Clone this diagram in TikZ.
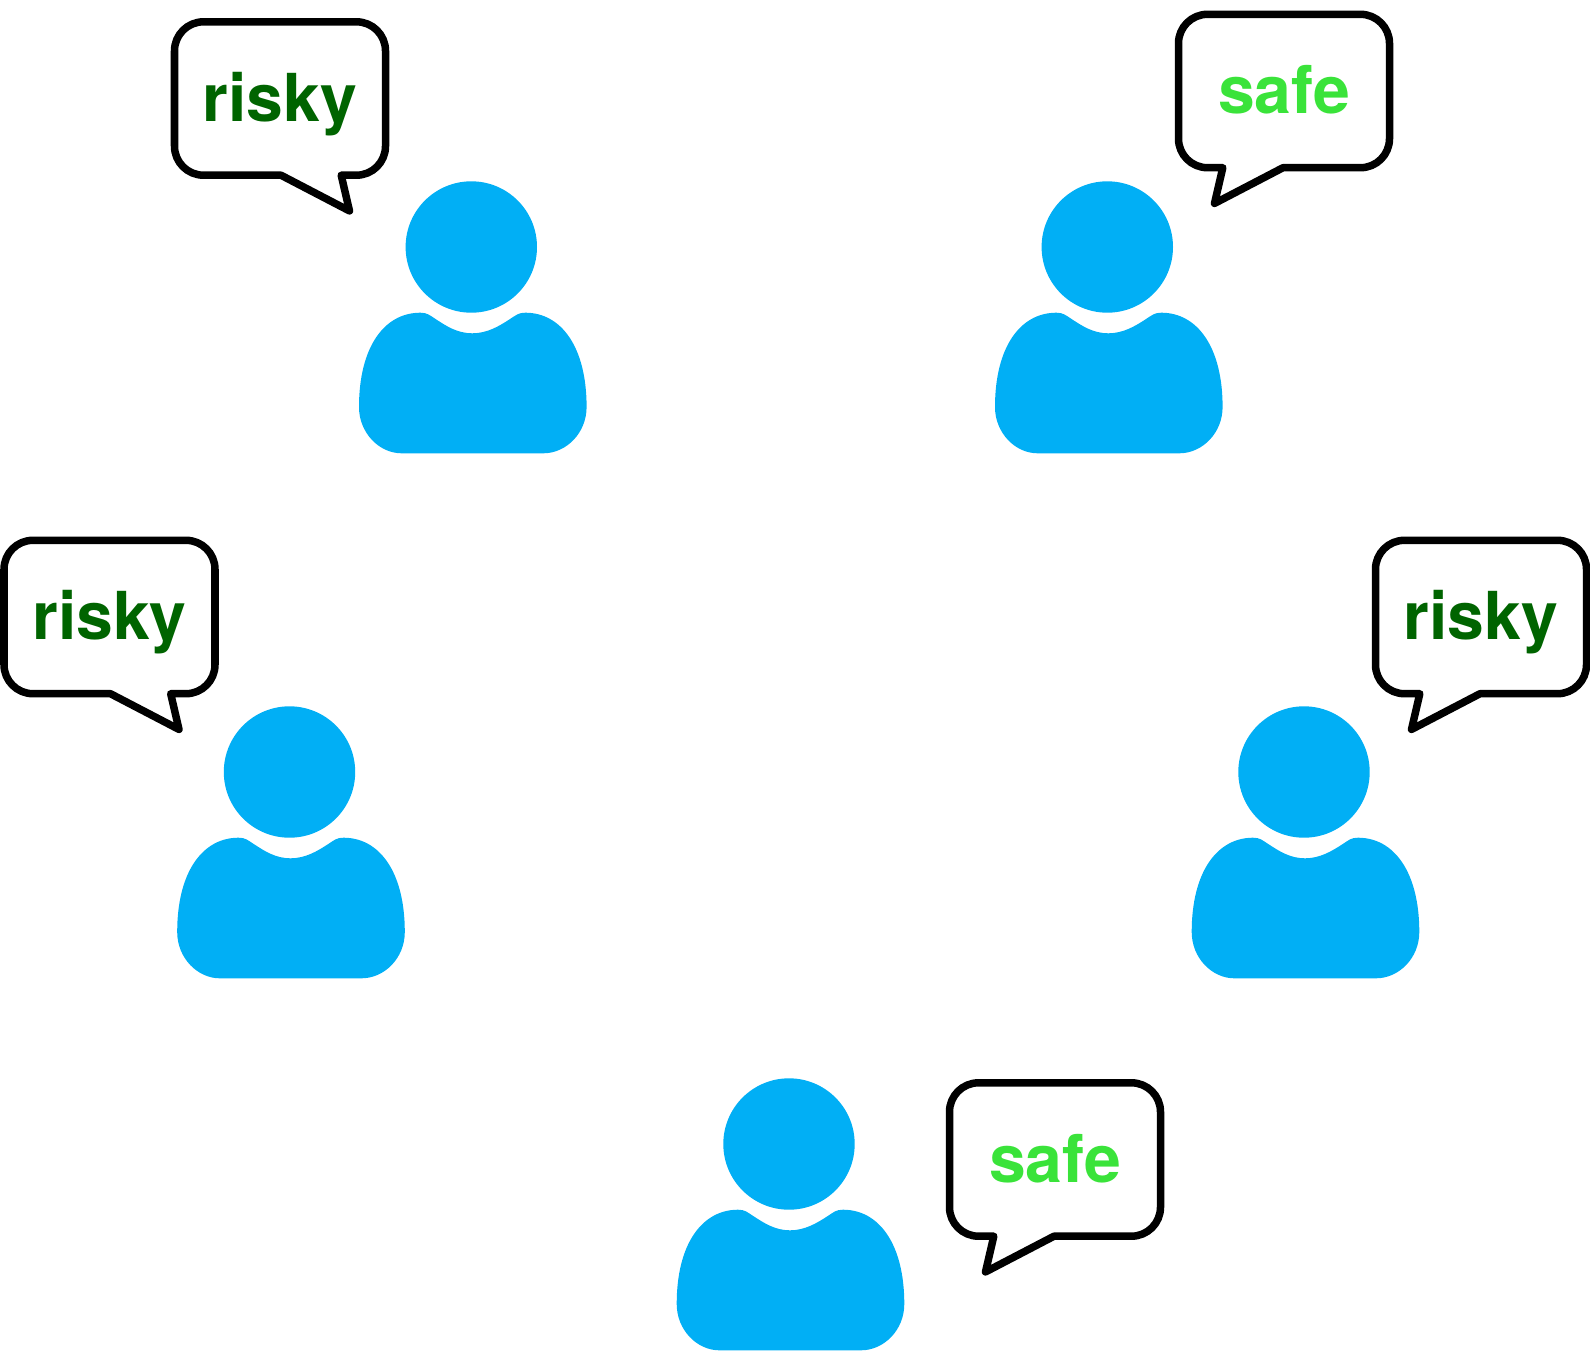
\documentclass[tikz,border=0pt]{standalone}
\usepackage{fontspec}
\setmainfont{TeX Gyre Heros}
\definecolor{personblue}{HTML}{01AFF5}
\definecolor{riskygreen}{HTML}{006400}
\definecolor{safegreen}{HTML}{3AE33A}
\begin{document}
\begin{tikzpicture}[x=0.01cm,y=-0.01cm,line join=round,line cap=round,
					bubble/.style={draw=black,line width=0.075cm},
					person/.style={fill=personblue},
					word/.style={font=\bfseries\fontsize{18.8}{22}\selectfont,anchor=base,inner sep=0pt}]
					\useasboundingbox (0,0) rectangle (1590,1351);
					\foreach \p/\xH/\yH/\xB/\yB/\s/\lab/\col in {
						A/471.3/247/280/98.5/1/risky/riskygreen,
						B/1107.3/247/1284/91/-1/safe/safegreen,
						C/289.5/772/109.5/617/1/risky/riskygreen,
						D/1304/772/1481/617/-1/risky/riskygreen,
						E/789/1144/1055/1159.5/-1/safe/safegreen%
					}{
						% head and body
						\begin{scope}[shift={(\xH,\yH)}]
							\fill[person] (0,0) circle (65.7);
							\fill[person] (1,86.3) .. controls (16,86.3) and (28,79) .. (38,72.5)
							.. controls (45,68) and (47,65.7) .. (54,65.7)
							.. controls (90,65.7) and (115.3,100) .. (115.3,160)
							.. controls (115.3,186) and (95,206.3) .. (72,206.3)
							-- (-69.7,206.3)
							.. controls (-92,206.3) and (-112.3,186) .. (-112.3,160)
							.. controls (-112.3,100) and (-87,65.7) .. (-51,65.7)
							.. controls (-44,65.7) and (-42,68) .. (-35,72.5)
							.. controls (-25,79) and (-14,86.3) .. (1,86.3) -- cycle;
						\end{scope}
						% speech bubble
						\begin{scope}[shift={(\xB,\yB)},xscale=\s]
							\draw[bubble] (1,76.7) -- (-76.5,76.7) .. controls (-92.5,76.7) and (-105.5,63.7) .. (-105.5,47.7)
							-- (-105.5,-47.7) .. controls (-105.5,-63.7) and (-92.5,-76.7) .. (-76.5,-76.7)
							-- (76.5,-76.7) .. controls (92.5,-76.7) and (105.5,-63.7) .. (105.5,-47.7)
							-- (105.5,47.7) .. controls (105.5,63.7) and (92.5,76.7) .. (76.5,76.7)
							-- (61.2,76.7) -- (69.5,112.4) -- cycle;
						\end{scope}
						\node[word,text=\col] (word\p) at (\xB,\yB+22.5) {\lab};
					}
				\end{tikzpicture}
\end{document}
